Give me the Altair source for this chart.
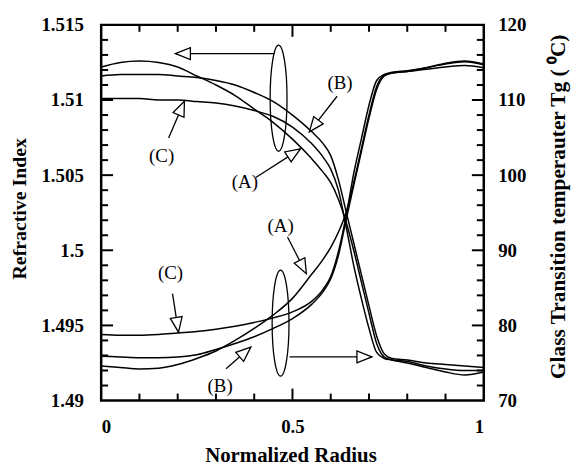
import math
import altair as alt
import pandas as pd

# ---------------- data ----------------
radius = [0, 0.05, 0.1, 0.15, 0.2, 0.25, 0.3, 0.35, 0.4, 0.45, 0.5, 0.55, 0.58,
          0.6, 0.62, 0.64, 0.66, 0.68, 0.7, 0.72, 0.74, 0.76, 0.8, 0.85, 0.9, 0.95, 1.0]

# refractive index (left axis)
ri_a = [1.5122, 1.5125, 1.5126, 1.5125, 1.5122, 1.5116, 1.5110, 1.5103, 1.5094, 1.5085,
        1.5074, 1.5061, 1.5052, 1.5045, 1.5034, 1.5019, 1.5000, 1.4979, 1.4958, 1.4938,
        1.4929, 1.4927, 1.4926, 1.4923, 1.4921, 1.4920, 1.4920]
ri_b = [1.5116, 1.5117, 1.5117, 1.5117, 1.5116, 1.5115, 1.5113, 1.5110, 1.5105, 1.5099,
        1.5090, 1.5079, 1.5071, 1.5063, 1.5047, 1.5026, 1.5005, 1.4984, 1.4963, 1.4943,
        1.4931, 1.4928, 1.4927, 1.4925, 1.4924, 1.4923, 1.4922]
ri_c = [1.5101, 1.5101, 1.5101, 1.5100, 1.5100, 1.5099, 1.5098, 1.5096, 1.5093, 1.5089,
        1.5082, 1.5071, 1.5062, 1.5054, 1.5040, 1.5016, 1.4990, 1.4968, 1.4948, 1.4932,
        1.4928, 1.4927, 1.4925, 1.4922, 1.4919, 1.4917, 1.4919]

# glass transition temperature (right axis)
tg_a = [74.6, 74.4, 74.2, 74.3, 74.8, 75.6, 76.6, 78.0, 79.6, 81.4,
        83.6, 86.8, 88.8, 90.4, 92.4, 95.0, 99.0, 103.5, 108.0, 111.8,
        113.3, 113.6, 113.8, 114.3, 114.8, 115.1, 114.7]
tg_b = [75.9, 75.8, 75.7, 75.7, 75.8, 76.1, 76.8, 77.6, 78.5, 79.6,
        80.9, 82.8, 84.5, 86.2, 89.3, 94.0, 98.6, 103.1, 107.6, 111.4,
        113.2, 113.6, 113.8, 114.1, 114.4, 114.6, 114.3]
tg_c = [78.8, 78.7, 78.7, 78.8, 79.0, 79.2, 79.5, 79.9, 80.4, 81.0,
        81.8, 83.2, 84.8, 86.5, 89.8, 94.5, 100.2, 104.8, 109.3, 112.6,
        113.4, 113.7, 113.9, 114.3, 114.9, 115.2, 114.8]

# axis ticks
x_labels = [0, 0.5, 1]
x_minor = [0.1, 0.2, 0.3, 0.4, 0.6, 0.7, 0.8, 0.9]
x_major = [0.5]
ri_labels = [1.49, 1.495, 1.5, 1.505, 1.51, 1.515]
ri_minor = [1.491, 1.492, 1.493, 1.494, 1.496, 1.497, 1.498, 1.499, 1.501, 1.502,
            1.503, 1.504, 1.506, 1.507, 1.508, 1.509, 1.511, 1.512, 1.513, 1.514]
ri_major = [1.495, 1.5, 1.505, 1.51]
tg_labels = [70, 80, 90, 100, 110, 120]
tg_minor = [72, 74, 76, 78, 82, 84, 86, 88, 92, 94, 96, 98, 102, 104, 106, 108,
            112, 114, 116, 118]
tg_major = [80, 90, 100, 110]

# annotations (in radius / refractive-index units)
arrow_tail_x = [0.4534, 0.4922, 0.1762, 0.4041, 0.6166, 0.4870, 0.1865, 0.3264]
arrow_tail_y = [1.51309, 1.49290, 1.50748, 1.50484, 1.51025, 1.50088, 1.49712, 1.49211]
arrow_tip_x = [0.1943, 0.7073, 0.2176, 0.5207, 0.5440, 0.5363, 0.2021, 0.3912]
arrow_tip_y = [1.51309, 1.49290, 1.50992, 1.50675, 1.50788, 1.49844, 1.49455, 1.49356]

label_text = ["(C)", "(A)", "(B)", "(A)", "(C)", "(B)"]
label_x = [0.158, 0.3756, 0.6244, 0.4689, 0.1813, 0.3109]
label_y = [1.50629, 1.50451, 1.51111, 1.50161, 1.49851, 1.49099]

ellipse_x = [0.4637, 0.4689]
ellipse_y = [1.51012, 1.49515]

# ---------------- chart ----------------
W, H = 386, 379
FONT = "Liberation Serif"
INK = "black"

xs = alt.Scale(domain=[0, 1], nice=False, zero=False)
ys_ri = alt.Scale(domain=[1.49, 1.515], nice=False, zero=False)
ys_tg = alt.Scale(domain=[70, 120], nice=False, zero=False)


def long(series, xvals):
    rows = []
    for name, vals in series.items():
        for xv, yv in zip(xvals, vals):
            rows.append({"r": xv, "v": yv, "curve": name})
    return pd.DataFrame(rows)


ri_df = long({"A": ri_a, "B": ri_b, "C": ri_c}, radius)
tg_df = long({"A": tg_a, "B": tg_b, "C": tg_c}, radius)

ri_lines = alt.Chart(ri_df).mark_line(color=INK, strokeWidth=1.5, interpolate="monotone").encode(
    x=alt.X("r:Q", scale=xs, axis=alt.Axis(
        values=x_labels, format="~g", title="Normalized Radius", labelPadding=17,
        titleX=191, titleY=55, titleBaseline="middle", titleAlign="center",
        titleFontSize=21)),
    y=alt.Y("v:Q", scale=ys_ri, axis=alt.Axis(
        orient="left", values=ri_labels, format=".3~f", title="Refractive Index",
        labelPadding=18, titleAngle=270, titleX=-82, titleY=185,
        titleBaseline="middle", titleAlign="center")),
    detail="curve:N",
)

tick_style = dict(color=INK, strokeWidth=2)

left_minor = alt.Chart(pd.DataFrame({"v": ri_minor})).mark_rule(**tick_style).encode(
    y=alt.Y("v:Q", scale=ys_ri), x=alt.value(0), x2=alt.value(7))
left_major = alt.Chart(pd.DataFrame({"v": ri_major})).mark_rule(**tick_style).encode(
    y=alt.Y("v:Q", scale=ys_ri), x=alt.value(0), x2=alt.value(12))

bottom_minor = alt.Chart(pd.DataFrame({"r": x_minor})).mark_rule(**tick_style).encode(
    x=alt.X("r:Q", scale=xs), y=alt.value(H - 7), y2=alt.value(H))
bottom_major = alt.Chart(pd.DataFrame({"r": x_major})).mark_rule(**tick_style).encode(
    x=alt.X("r:Q", scale=xs), y=alt.value(H - 12), y2=alt.value(H))
top_minor = alt.Chart(pd.DataFrame({"r": x_minor})).mark_rule(**tick_style).encode(
    x=alt.X("r:Q", scale=xs), y=alt.value(0), y2=alt.value(7))
top_major = alt.Chart(pd.DataFrame({"r": x_major})).mark_rule(**tick_style).encode(
    x=alt.X("r:Q", scale=xs), y=alt.value(0), y2=alt.value(12))

# arrows
sx, sy = W / 1.0, H / 0.025
angles = []
for tx0, ty0, tx1, ty1 in zip(arrow_tail_x, arrow_tail_y, arrow_tip_x, arrow_tip_y):
    dx = (tx1 - tx0) * sx
    dy = -(ty1 - ty0) * sy
    angles.append(math.degrees(math.atan2(dy, dx)) % 360)

arrow_df = pd.DataFrame({"r": arrow_tail_x, "v": arrow_tail_y,
                         "r2": arrow_tip_x, "v2": arrow_tip_y, "ang": angles})

arrow_lines = alt.Chart(arrow_df).mark_rule(color=INK, strokeWidth=1.3).encode(
    x=alt.X("r:Q", scale=xs), x2="r2:Q",
    y=alt.Y("v:Q", scale=ys_ri), y2="v2:Q")

HEAD = "M0,0L-1,-0.4L-1,0.4Z"
arrow_heads = alt.Chart(arrow_df).mark_point(
    shape=HEAD, size=900, filled=True, fill="white", stroke=INK,
    strokeWidth=1.3, opacity=1).encode(
    x=alt.X("r2:Q", scale=xs),
    y=alt.Y("v2:Q", scale=ys_ri),
    angle=alt.Angle("ang:Q", scale=None))

ELLIPSE = ("M0,-1C0.0878,-1 0.159,-0.5523 0.159,0C0.159,0.5523 0.0878,1 0,1"
           "C-0.0878,1 -0.159,0.5523 -0.159,0C-0.159,-0.5523 -0.0878,-1 0,-1Z")
ellipses = alt.Chart(pd.DataFrame({"r": ellipse_x, "v": ellipse_y})).mark_point(
    shape=ELLIPSE, size=107 * 107, filled=False, stroke=INK, strokeWidth=1.3,
    opacity=1).encode(
    x=alt.X("r:Q", scale=xs),
    y=alt.Y("v:Q", scale=ys_ri))

labels = alt.Chart(pd.DataFrame({"r": label_x, "v": label_y, "t": label_text})).mark_text(
    font=FONT, fontSize=19, color=INK, baseline="middle", align="center").encode(
    x=alt.X("r:Q", scale=xs),
    y=alt.Y("v:Q", scale=ys_ri),
    text="t:N")

ri_group = alt.layer(ri_lines, left_minor, left_major, bottom_minor, bottom_major,
                     top_minor, top_major, arrow_lines, arrow_heads, ellipses, labels)

tg_lines = alt.Chart(tg_df).mark_line(color=INK, strokeWidth=1.5, interpolate="monotone").encode(
    x=alt.X("r:Q", scale=xs),
    y=alt.Y("v:Q", scale=ys_tg, axis=alt.Axis(
        orient="right", values=tg_labels, format="d",
        title="Glass Transition temperauter Tg ( \u2070C)", labelPadding=14,
        titleAngle=270, titleX=75, titleY=183, titleBaseline="middle",
        titleAlign="center", titleFontSize=21.5)),
    detail="curve:N",
)
right_minor = alt.Chart(pd.DataFrame({"v": tg_minor})).mark_rule(**tick_style).encode(
    y=alt.Y("v:Q", scale=ys_tg), x=alt.value(W - 7), x2=alt.value(W))
right_major = alt.Chart(pd.DataFrame({"v": tg_major})).mark_rule(**tick_style).encode(
    y=alt.Y("v:Q", scale=ys_tg), x=alt.value(W - 12), x2=alt.value(W))

tg_group = alt.layer(tg_lines, right_minor, right_major)

chart = (
    alt.layer(ri_group, tg_group)
    .resolve_scale(y="independent")
    .properties(
        width=W, height=H,
        autosize=alt.AutoSizeParams(type="none"),
        padding={"left": 94, "top": 15, "right": 88, "bottom": 64},
        background="white",
    )
    .configure_view(stroke=INK, strokeWidth=2.5)
    .configure_axis(
        labelFont=FONT, labelFontWeight="bold", labelFontSize=19, labelColor=INK,
        titleFont=FONT, titleFontWeight="bold", titleFontSize=20, titleColor=INK,
        ticks=False, domain=False, grid=False,
    )
)

chart.save("out.html", embed_options={"renderer": "svg", "actions": False})
